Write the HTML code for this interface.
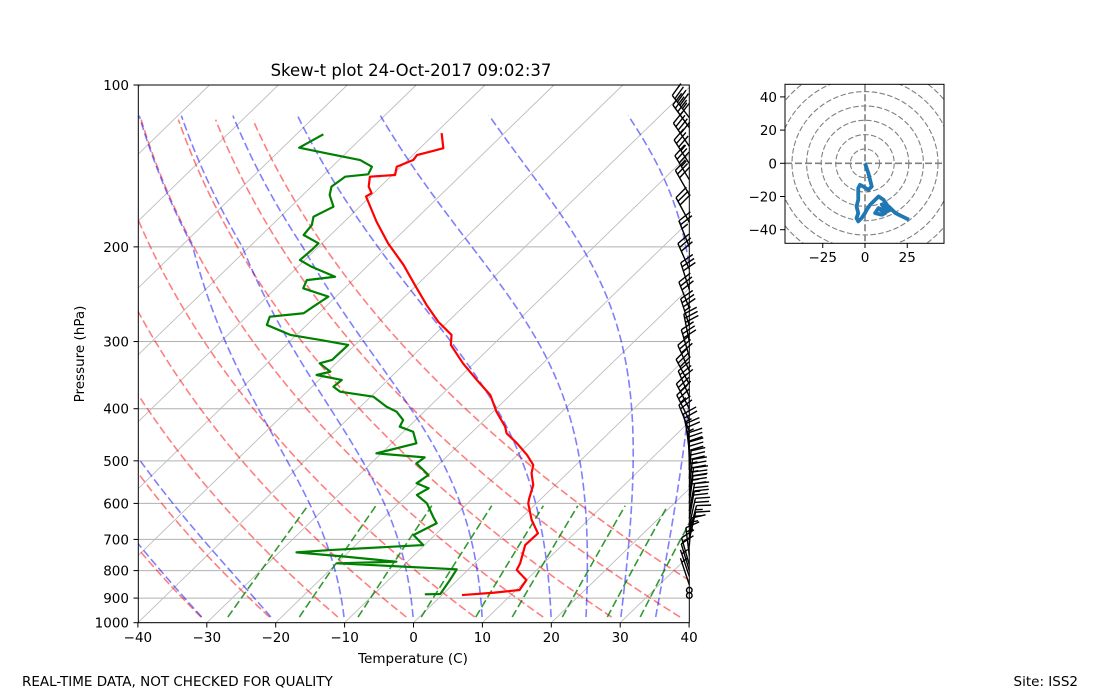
<!DOCTYPE html>
<html><head><meta charset="utf-8"><style>
html,body{margin:0;padding:0;background:#fff;}
svg{display:block;font-family:"DejaVu Sans","Liberation Sans",sans-serif;}
</style></head><body>
<svg id="fig" width="1100" height="700" viewBox="0 0 1100 700" xmlns="http://www.w3.org/2000/svg">
<defs>
<clipPath id="mainclip"><rect x="138.3" y="85" width="551" height="537.7"/></clipPath>
<clipPath id="hodoclip"><rect x="785" y="84.3" width="159" height="159"/></clipPath>
</defs>
<rect x="0" y="0" width="1100" height="700" fill="#fff"/>
<g id="bg" clip-path="url(#mainclip)"></g>
<g id="prof" clip-path="url(#mainclip)"></g>
<g id="barbs"></g>
<rect x="138.3" y="85" width="551" height="537.7" fill="none" stroke="#000" stroke-width="1"/>
<g id="axes"></g>
<text x="411" y="76" font-size="16.5" text-anchor="middle">Skew-t plot 24-Oct-2017 09:02:37</text>
<text x="413" y="663" font-size="13.5" text-anchor="middle">Temperature (C)</text>
<text x="0" y="0" font-size="13.5" text-anchor="middle" transform="translate(84,354) rotate(-90)">Pressure (hPa)</text>
<text x="22" y="686" font-size="13.5">REAL-TIME DATA, NOT CHECKED FOR QUALITY</text>
<text x="1078" y="686" font-size="13.5" text-anchor="end">Site: ISS2</text>
<g id="hodo"></g>
</svg>
<script>
// ---- data ----
const tempP = [122.9,131.1,132.6,135.0,137.9,141.9,147.0,148.1,154.5,158.9,161.2,179.6,197.0,216.2,235.4,256.5,275.6,291.6,304.4,329.3,353.6,377.1,405.1,432.0,444.4,463.8,487.6,508.9,527.4,554.6,587.0,599.7,644.2,682.0,717.1,775.4,797.9,832.8,869.3,879.5,888.4];
const tempC = [-69.1,-66.6,-67.7,-69.4,-69.2,-70.6,-69.6,-73.0,-71.7,-70.3,-70.6,-65.3,-60.4,-54.9,-50.3,-45.6,-41.4,-37.5,-36.1,-31.6,-27.1,-22.9,-19.5,-16.0,-14.8,-11.8,-8.6,-6.2,-5.2,-3.2,-1.8,-1.2,1.8,4.7,4.6,6.6,7.1,10.0,10.5,7.1,2.9];
const dewP = [123.5,130.8,134.0,137.9,141.9,146.6,148.1,154.5,160.2,168.4,175.8,182.2,190.1,197.0,202.7,211.6,217.8,227.3,230.6,238.8,247.5,258.4,265.8,269.7,279.4,291.6,297.9,304.4,324.6,329.3,341.3,346.2,353.6,364.0,371.8,379.9,396.6,405.1,419.8,432.0,441.4,463.8,484.2,492.6,505.4,531.3,550.4,562.3,578.7,599.7,635.2,653.3,687.0,717.1,732.6,739.9,753.9,770.1,775.4,795.7,832.8,869.3,884.4,885.5];
const dewC = [-86.1,-87.6,-82.8,-76.9,-74.2,-73.6,-76.6,-77.1,-76.1,-73.8,-75.2,-74.2,-73.9,-70.5,-70.5,-70.7,-68.0,-63.1,-66.7,-66.0,-61.1,-61.8,-62.2,-66.6,-65.8,-60.9,-55.8,-51.0,-51.1,-52.4,-49.6,-51.1,-46.7,-46.9,-45.2,-39.6,-36.2,-34.0,-31.8,-31.3,-28.6,-26.4,-30.7,-23.1,-23.4,-19.9,-20.4,-17.9,-18.6,-15.9,-13.0,-11.5,-13.1,-10.2,-23.0,-27.5,-19.6,-11.6,-20.0,-1.7,-1.1,-0.6,-0.4,-2.6];
const barbP = [890,870,850,820,800,780,750,720,700,680,660,640,620,600,580,560,540,520,500,480,460,440,420,400,380,360,340,320,300,280,260,240,220,200,180,160,150,140,130,120,115];
const barbU = [0,0,1,2,3,4,2,-1,-3,-4,-4,-4,-5,-4,-5,-4,-2,0,1,3,5,8,11,13,12,15,13,8,6,10,12,9,12,10,14,16,18,20,22,24,26];
const barbV = [0,0,-3,-6,-10,-14,-16,-14,-13,-15,-18,-22,-26,-30,-33,-35,-33,-30,-28,-25,-23,-20,-22,-25,-28,-28,-29,-27,-30,-31,-30,-28,-27,-25,-26,-28,-30,-31,-32,-33,-34];
const pTicks = [100,200,300,400,500,600,700,800,900,1000];
const tTicks = [-40,-30,-20,-10,0,10,20,30,40];
const isoTemps = [-150,-140,-130,-120,-110,-100,-90,-80,-70,-60,-50,-40,-30,-20,-10,0,10,20,30,40];
const dryT0 = [-40,-30,-20,-10,0,10,20,30,40,50];
const moistT0 = [-40,-30,-20,-10,0,10,20,25,30,35];
const mixW = [0.0004,0.001,0.002,0.004,0.007,0.01,0.016,0.024,0.032];
const hodoTicksX = [-25,0,25];
const hodoTicksY = [-40,-20,0,20,40];
const hodoRings = [8.64,17.28,25.92,34.56,43.2,51.84,60.48];

// ---- scales ----
const NS='http://www.w3.org/2000/svg';
const Y0=622.7, DEC=537.7, X0=413.5, XS=6.89, SK=1.03;
function yP(p){return Y0-DEC*Math.log10(1000/p);}
function xT(t,p){return X0+XS*t+SK*(Y0-yP(p));}
function mk(tag,attrs,parent){const e=document.createElementNS(NS,tag);for(const k in attrs)e.setAttribute(k,attrs[k]);parent.appendChild(e);return e;}
function pathD(pts){return pts.map((q,i)=>(i?'L':'M')+q[0].toFixed(2)+' '+q[1].toFixed(2)).join('');}
const bg=document.getElementById('bg'), prof=document.getElementById('prof'), axes=document.getElementById('axes');

pTicks.forEach(p=>{
  const l=mk('line',{x1:138.3,x2:689.3,y1:yP(p),y2:yP(p),stroke:'#b0b0b0','stroke-width':1},bg);
  
  
});
isoTemps.forEach(t=>{
  const l=mk('path',{d:pathD([[xT(t,1000),yP(1000)],[xT(t,100),yP(100)]]),stroke:'#bdbdbd','stroke-width':0.9,fill:'none'},bg);
  
  
});
const PTOP=113, PBOT=976;
dryT0.forEach(t0=>{
  const th=t0+273.15, pts=[];
  for(let p=PBOT;p>=PTOP;p-=4){pts.push([xT(th*Math.pow(p/1000,0.2857)-273.15,p),yP(p)]);}
  const l=mk('path',{d:pathD(pts),stroke:'rgba(255,0,0,0.5)','stroke-width':1.6,fill:'none','stroke-dasharray':'8,3.5'},bg);
  
  
});
function es(T){return 6.112*Math.exp(17.67*(T-273.15)/(T-29.65));}
function dTdp(T,p){const Rd=287.04749,Cp=1005.7,Lv=2.501e6,eps=0.622;const e=es(T);const rs=eps*e/Math.max(p-e,1e-3);return (Rd*T+Lv*rs)/(Cp+Lv*Lv*rs*eps/(Rd*T*T))/p;}
moistT0.forEach(b=>{
  const eff=(b>-20&&b<20)?10+b/2:b;
  let T=eff+273.15, p=1000; const h=-2; const pts=[];
  while(p>=PTOP){
    if(p<=PBOT){
      let w=Math.log(p/200)/Math.log(5); w=Math.max(0,Math.min(1,w));
      pts.push([xT(T-273.15+(b-eff)*w,p),yP(p)]);
    }
    const k1=dTdp(T,p),k2=dTdp(T+h*k1/2,p+h/2),k3=dTdp(T+h*k2/2,p+h/2),k4=dTdp(T+h*k3,p+h);
    T+=h*(k1+2*k2+2*k3+k4)/6; p+=h;
  }
  const l=mk('path',{d:pathD(pts),stroke:'rgba(0,0,255,0.5)','stroke-width':1.6,fill:'none','stroke-dasharray':'8,3.5'},bg);
  
  
});
mixW.forEach(w=>{
  const pts=[];
  for(let p=PBOT;p>=600;p-=10){const e=p*w/(0.622+w);const L=Math.log(e/6.112);const td=243.5*L/(17.67-L);pts.push([xT(td,p),yP(p)]);}
  const l=mk('path',{d:pathD(pts),stroke:'rgba(0,128,0,0.8)','stroke-width':1.6,fill:'none','stroke-dasharray':'8,3.5'},bg);
  
  
});
const tl=mk('path',{d:pathD(tempP.map((p,i)=>[xT(tempC[i],p),yP(p)])),stroke:'#ff0000','stroke-width':2.2,fill:'none','stroke-linejoin':'round'},prof);


const dl=mk('path',{d:pathD(dewP.map((p,i)=>[xT(dewC[i],p),yP(p)])),stroke:'#008000','stroke-width':2.2,fill:'none','stroke-linejoin':'round'},prof);



pTicks.forEach(p=>{
  mk('line',{x1:133.5,x2:138.3,y1:yP(p),y2:yP(p),stroke:'#000'},axes);
  const t=mk('text',{x:129,y:yP(p)+5,'font-size':13.5,'text-anchor':'end'},axes);
  t.textContent=p;
  
  
});
tTicks.forEach(v=>{
  const x=X0+XS*v;
  mk('line',{x1:x,x2:x,y1:622.7,y2:627.5,stroke:'#000'},axes);
  const t=mk('text',{x:x,y:642,'font-size':13.5,'text-anchor':'middle'},axes);
  t.textContent=(v<0?'\u2212'+(-v):v);
  
  
});

const bG=document.getElementById('barbs');
const BX=689.3, L=28;
barbP.forEach((p,i)=>{
  const u=barbU[i], v=barbV[i], s=Math.hypot(u,v), y=yP(p);
  const g=mk('g',{stroke:'#000','stroke-width':1.4,fill:'none'},bG);
  
  
  if(s<2.5){mk('circle',{cx:BX,cy:y,r:2.8},g);return;}
  const dx=-u/s, dy=v/s; const px=-dy, py=dx;
  const tx=BX+dx*L, ty=y+dy*L;
  mk('line',{x1:BX,y1:y,x2:tx,y2:ty},g);
  let r=Math.round(s/5)*5; let pos=0; const sp=L*0.15, H=L*0.5;
  let fifty=Math.floor(r/50); r-=fifty*50; let ten=Math.floor(r/10); r-=ten*10; let half=r>=5;
  for(let k=0;k<fifty;k++){const ax=tx-dx*pos,ay=ty-dy*pos;mk('path',{d:`M${ax} ${ay}L${ax+px*H} ${ay+py*H}L${ax-dx*sp*1.5} ${ay-dy*sp*1.5}Z`,fill:'#000'},g);pos+=sp*1.8;}
  for(let k=0;k<ten;k++){const ax=tx-dx*pos,ay=ty-dy*pos;mk('line',{x1:ax,y1:ay,x2:ax+px*H+dx*H*0.3,y2:ay+py*H+dy*H*0.3},g);pos+=sp;}
  if(half){if(pos===0)pos=sp;const ax=tx-dx*pos,ay=ty-dy*pos;mk('line',{x1:ax,y1:ay,x2:ax+px*H*0.5+dx*H*0.15,y2:ay+py*H*0.5+dy*H*0.15},g);}
});

const hG=document.getElementById('hodo');
const HX0=865, HY0=163.3, HSX=1.69, HSY=1.66;
const hx=u=>HX0+u*HSX, hy=v=>HY0-v*HSY;
const hc=mk('g',{'clip-path':'url(#hodoclip)'},hG);
hodoRings.forEach(r=>{
  const c=mk('ellipse',{cx:HX0,cy:HY0,rx:r*HSX,ry:r*HSY,fill:'none',stroke:'#808080','stroke-width':1.1,'stroke-dasharray':'5.5,2.4'},hc);
  
  
});
mk('line',{x1:785,x2:944,y1:HY0,y2:HY0,stroke:'#808080','stroke-width':1.6,'stroke-dasharray':'7,3'},hc);
mk('line',{x1:HX0,x2:HX0,y1:84.3,y2:243.3,stroke:'#808080','stroke-width':1.6,'stroke-dasharray':'7,3'},hc);
const hp=mk('path',{d:pathD(barbU.map((u,i)=>[hx(u),hy(barbV[i])])),fill:'none',stroke:'#1f77b4','stroke-width':3.8,'stroke-linejoin':'round'},hc);


const hf=mk('rect',{x:785,y:84.3,width:159,height:159,fill:'none',stroke:'#000','stroke-width':1},hG);


hodoTicksX.forEach(v=>{
  mk('line',{x1:hx(v),x2:hx(v),y1:243.3,y2:248,stroke:'#000'},hG);
  const t=mk('text',{x:hx(v),y:262,'font-size':13.5,'text-anchor':'middle'},hG);
  t.textContent=(v<0?'\u2212'+(-v):v);
  
  
});
hodoTicksY.forEach(v=>{
  mk('line',{x1:780,x2:785,y1:hy(v),y2:hy(v),stroke:'#000'},hG);
  const t=mk('text',{x:777,y:hy(v)+5,'font-size':13.5,'text-anchor':'end'},hG);
  t.textContent=(v<0?'\u2212'+(-v):v);
  
  
});
</script>
</body></html>
